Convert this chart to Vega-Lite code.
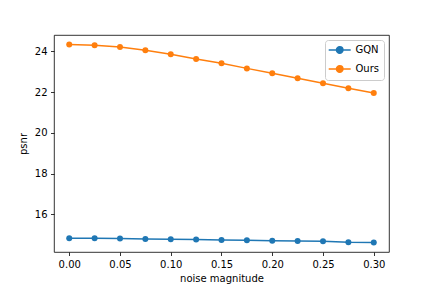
{
  "$schema": "https://vega.github.io/schema/vega-lite/v6.json",
  "autosize": {"type": "none"},
  "width": 335,
  "height": 217,
  "padding": {"left": 54, "top": 35, "right": 43, "bottom": 36},
  "background": "white",
  "config": {
    "font": "DejaVu Sans",
    "view": {"stroke": "black", "strokeWidth": 0.8},
    "axis": {
      "domain": false,
      "grid": false,
      "tickColor": "black",
      "tickWidth": 0.8,
      "tickSize": 3.5,
      "labelPadding": 3.5,
      "labelFontSize": 10,
      "labelColor": "black",
      "labelFont": "DejaVu Sans",
      "titleFont": "DejaVu Sans",
      "titleFontSize": 10,
      "titleFontWeight": "normal",
      "titleColor": "black"
    }
  },
  "data": {
    "values": [
      {"noise": 0.000, "psnr": 14.82, "method": "GQN"},
      {"noise": 0.025, "psnr": 14.82, "method": "GQN"},
      {"noise": 0.050, "psnr": 14.81, "method": "GQN"},
      {"noise": 0.075, "psnr": 14.79, "method": "GQN"},
      {"noise": 0.100, "psnr": 14.78, "method": "GQN"},
      {"noise": 0.125, "psnr": 14.77, "method": "GQN"},
      {"noise": 0.150, "psnr": 14.74, "method": "GQN"},
      {"noise": 0.175, "psnr": 14.73, "method": "GQN"},
      {"noise": 0.200, "psnr": 14.70, "method": "GQN"},
      {"noise": 0.225, "psnr": 14.69, "method": "GQN"},
      {"noise": 0.250, "psnr": 14.68, "method": "GQN"},
      {"noise": 0.275, "psnr": 14.63, "method": "GQN"},
      {"noise": 0.300, "psnr": 14.62, "method": "GQN"},
      {"noise": 0.000, "psnr": 24.34, "method": "Ours"},
      {"noise": 0.025, "psnr": 24.31, "method": "Ours"},
      {"noise": 0.050, "psnr": 24.22, "method": "Ours"},
      {"noise": 0.075, "psnr": 24.06, "method": "Ours"},
      {"noise": 0.100, "psnr": 23.86, "method": "Ours"},
      {"noise": 0.125, "psnr": 23.63, "method": "Ours"},
      {"noise": 0.150, "psnr": 23.42, "method": "Ours"},
      {"noise": 0.175, "psnr": 23.17, "method": "Ours"},
      {"noise": 0.200, "psnr": 22.93, "method": "Ours"},
      {"noise": 0.225, "psnr": 22.68, "method": "Ours"},
      {"noise": 0.250, "psnr": 22.44, "method": "Ours"},
      {"noise": 0.275, "psnr": 22.19, "method": "Ours"},
      {"noise": 0.300, "psnr": 21.96, "method": "Ours"}
    ]
  },
  "mark": {"type": "line", "strokeWidth": 1.5, "point": {"filled": true, "size": 36, "opacity": 1}},
  "encoding": {
    "x": {
      "field": "noise",
      "type": "quantitative",
      "scale": {"domain": [-0.015, 0.315], "nice": false, "zero": false},
      "axis": {"values": [0, 0.05, 0.1, 0.15, 0.2, 0.25, 0.3], "format": ".2f", "title": "noise magnitude", "titlePadding": 4}
    },
    "y": {
      "field": "psnr",
      "type": "quantitative",
      "scale": {"domain": [14.15, 24.81], "nice": false, "zero": false},
      "axis": {"values": [16, 18, 20, 22, 24], "title": "psnr", "titlePadding": 6}
    },
    "color": {
      "field": "method",
      "type": "nominal",
      "scale": {"domain": ["GQN", "Ours"], "range": ["#1f77b4", "#ff7f0e"]},
      "legend": {
        "title": null,
        "orient": "top-right",
        "offset": 5,
        "padding": 4,
        "fillColor": "rgba(255,255,255,0.8)",
        "strokeColor": "#cccccc",
        "cornerRadius": 3,
        "labelFont": "DejaVu Sans",
        "labelFontSize": 10,
        "labelColor": "black",
        "labelOffset": 14.5,
        "rowPadding": 5,
        "symbolType": "M-1.26,0H3.14M0.29,0A0.65,0.65 0 1 1 1.59,0A0.65,0.65 0 1 1 0.29,0Z",
        "symbolSize": 100,
        "symbolStrokeWidth": 1.5,
        "encode": {"symbols": {"update": {"fill": {"scale": "color", "field": "value"}, "stroke": {"scale": "color", "field": "value"}}}}
      }
    }
  }
}
